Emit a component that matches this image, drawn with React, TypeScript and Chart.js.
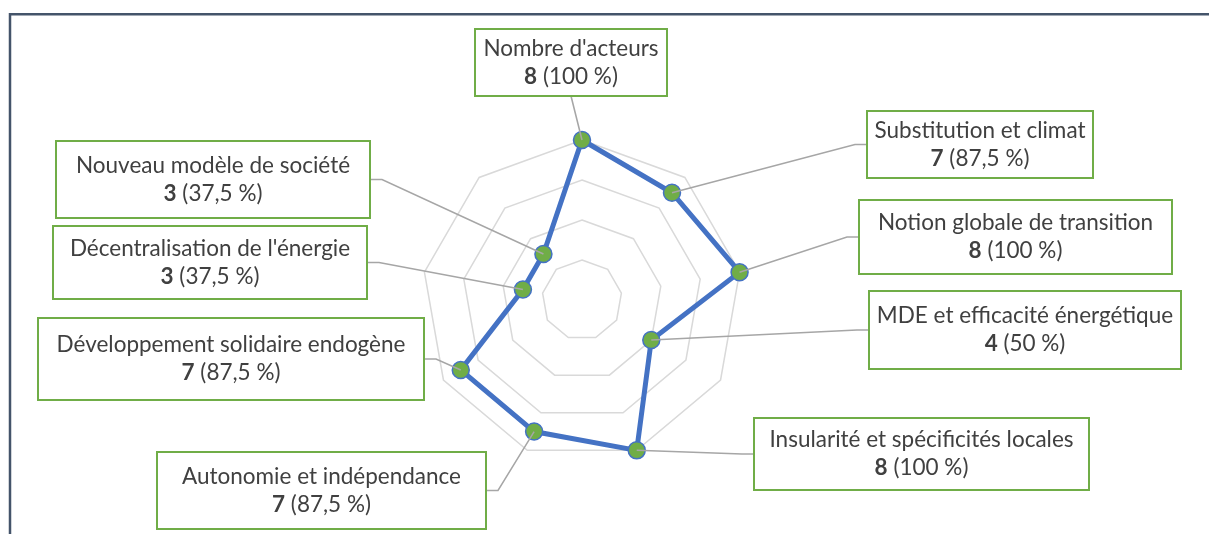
import React, { useEffect, useRef } from 'react';
import { Chart, registerables } from 'chart.js';

Chart.register(...registerables);

// ---- data ----
const categories: string[] = [
  "Nombre d'acteurs",
  'Substitution et climat',
  'Notion globale de transition',
  'MDE et efficacité énergétique',
  'Insularité et spécificités locales',
  'Autonomie et indépendance',
  'Développement solidaire endogène',
  "Décentralisation de l'énergie",
  'Nouveau modèle de société',
];
const actorCounts: number[] = [8, 7, 8, 4, 8, 7, 7, 3, 3];
const totalActors = 8;
const scaleMin = 0;
const scaleMax = 8;
const scaleStep = 2;

// ---- layout of the callout boxes (annotation layout, not data) ----
type Side = 'left' | 'right' | 'bottom';
const calloutBoxes: { x: number; y: number; w: number; h: number; side: Side }[] = [
  { x: 475, y: 29, w: 192, h: 67, side: 'bottom' },
  { x: 867, y: 111, w: 226, h: 67, side: 'left' },
  { x: 859, y: 200, w: 313, h: 74, side: 'left' },
  { x: 869, y: 291, w: 312, h: 78, side: 'left' },
  { x: 754, y: 418, w: 335, h: 72, side: 'left' },
  { x: 157, y: 452, w: 329, h: 77, side: 'right' },
  { x: 38, y: 318, w: 386, h: 82, side: 'right' },
  { x: 53, y: 226, w: 314, h: 73, side: 'right' },
  { x: 56, y: 141, w: 314, h: 77, side: 'right' },
];

const FONT_FAMILY = 'Lato, "Open Sans", sans-serif';
const FONT_SIZE = 22.5;
const TEXT_COLOR = '#404040';

function formatPct(v: number): string {
  const p = Math.round((v / totalActors) * 1000) / 10;
  return String(p).replace('.', ',') + ' %';
}

const framePlugin = {
  id: 'frame',
  beforeDraw(chart: any) {
    const ctx = chart.ctx as CanvasRenderingContext2D;
    ctx.save();
    ctx.strokeStyle = '#44546A';
    ctx.lineWidth = 2.5;
    ctx.beginPath();
    ctx.moveTo(10, chart.height);
    ctx.lineTo(10, 14.3);
    ctx.lineTo(chart.width, 14.3);
    ctx.stroke();
    ctx.restore();
  },
};

const calloutPlugin = {
  id: 'callouts',
  afterDatasetsDraw(chart: any) {
    const ctx = chart.ctx as CanvasRenderingContext2D;
    const meta = chart.getDatasetMeta(0);
    ctx.save();
    // leader lines
    meta.data.forEach((pt: any, i: number) => {
      const b = calloutBoxes[i];
      if (!b) return;
      let ax: number, ay: number, bx: number, by: number;
      if (b.side === 'bottom') {
        ax = b.x + b.w / 2;
        ay = b.y + b.h;
        bx = ax;
        by = ay;
      } else if (b.side === 'left') {
        ax = b.x;
        ay = b.y + b.h / 2;
        bx = ax - 12;
        by = ay;
      } else {
        ax = b.x + b.w;
        ay = b.y + b.h / 2;
        bx = ax + 12;
        by = ay;
      }
      ctx.strokeStyle = '#A6A6A6';
      ctx.lineWidth = 1.5;
      ctx.beginPath();
      ctx.moveTo(ax, ay);
      ctx.lineTo(bx, by);
      ctx.lineTo(pt.x, pt.y);
      ctx.stroke();
    });
    // boxes + text
    const data = chart.data.datasets[0].data as number[];
    const labels = chart.data.labels as string[];
    calloutBoxes.forEach((b, i) => {
      ctx.fillStyle = '#FFFFFF';
      ctx.fillRect(b.x, b.y, b.w, b.h);
      ctx.strokeStyle = '#70AD47';
      ctx.lineWidth = 2;
      ctx.strokeRect(b.x, b.y, b.w, b.h);
      const cx = b.x + b.w / 2;
      const cy = b.y + b.h / 2;
      ctx.fillStyle = TEXT_COLOR;
      ctx.textBaseline = 'middle';
      ctx.textAlign = 'center';
      ctx.font = `${FONT_SIZE}px ${FONT_FAMILY}`;
      ctx.fillText(labels[i], cx, cy - 14);
      const v = data[i];
      const boldTxt = String(v);
      const restTxt = ' (' + formatPct(v) + ')';
      ctx.font = `bold ${FONT_SIZE}px ${FONT_FAMILY}`;
      const wb = ctx.measureText(boldTxt).width;
      ctx.font = `${FONT_SIZE}px ${FONT_FAMILY}`;
      const wr = ctx.measureText(restTxt).width;
      const start = cx - (wb + wr) / 2;
      ctx.textAlign = 'left';
      ctx.font = `bold ${FONT_SIZE}px ${FONT_FAMILY}`;
      ctx.fillText(boldTxt, start, cy + 14);
      ctx.font = `${FONT_SIZE}px ${FONT_FAMILY}`;
      ctx.fillText(restTxt, start + wb, cy + 14);
    });
    ctx.restore();
  },
};

export default function App() {
  const canvasRef = useRef<HTMLCanvasElement | null>(null);

  useEffect(() => {
    const canvas = canvasRef.current;
    if (!canvas) return;
    const chart = new Chart(canvas, {
      type: 'radar',
      data: {
        labels: categories,
        datasets: [
          {
            label: "Nombre d'acteurs",
            data: actorCounts,
            borderColor: '#4472C4',
            borderWidth: 5,
            backgroundColor: 'rgba(0,0,0,0)',
            fill: false,
            pointBackgroundColor: '#70AD47',
            pointBorderColor: '#4472C4',
            pointBorderWidth: 1.5,
            pointRadius: 8.5,
            pointHoverRadius: 8.5,
            tension: 0,
          },
        ],
      },
      options: {
        responsive: false,
        animation: false,
        devicePixelRatio: 1,
        layout: { padding: { left: 422, top: 140, right: 467, bottom: 74 } },
        plugins: {
          legend: { display: false },
          title: { display: false },
          tooltip: { enabled: false },
        },
        scales: {
          r: {
            min: scaleMin,
            max: scaleMax,
            startAngle: 0,
            ticks: { stepSize: scaleStep, display: false },
            grid: { color: '#D9D9D9', lineWidth: 1.5, circular: false },
            angleLines: { display: false },
            pointLabels: { display: false },
          },
        },
      },
      plugins: [framePlugin, calloutPlugin],
    });
    return () => chart.destroy();
  }, []);

  return (
    <canvas
      ref={canvasRef}
      width={1209}
      height={534}
      style={{ position: 'fixed', left: 0, top: 0, display: 'block' }}
    />
  );
}
